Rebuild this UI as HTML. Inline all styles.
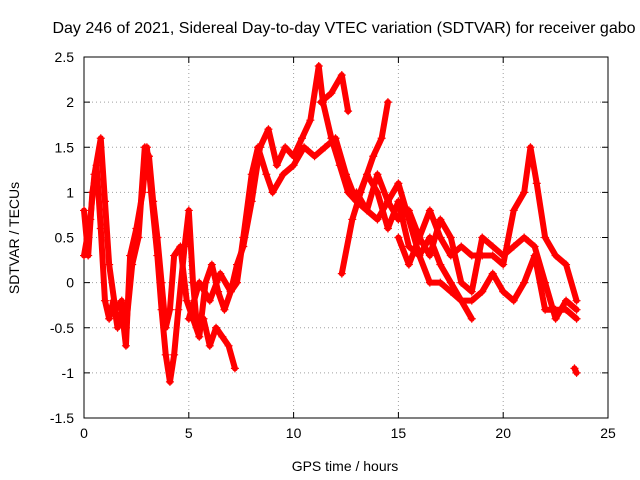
<!DOCTYPE html>
<html><head><meta charset="utf-8"><style>
body{margin:0;background:#fff;}
svg{display:block;font-family:"Liberation Sans",sans-serif;}
</style></head><body>
<svg id="chart" width="640" height="480">
<text x="344" y="33" font-size="16" text-anchor="middle">Day 246 of 2021, Sidereal Day-to-day VTEC variation (SDTVAR) for receiver gabo</text>
<g id="grid"></g>
<rect x="84" y="57" width="524" height="361" fill="none" stroke="#000"/>
<g id="ticks"></g>
<g id="series"></g>
<text x="345" y="471" font-size="14" text-anchor="middle">GPS time / hours</text>
<text x="19" y="238" font-size="14" text-anchor="middle" transform="rotate(-90 19 238)">SDTVAR / TECUs</text>
</svg>
<script>
const xTicks=[0,5,10,15,20,25];
const yTicks=[-1.5,-1,-0.5,0,0.5,1,1.5,2,2.5];
const tracks=[
[[0,0.8],[0.2,0.3],[0.4,1.0],[0.6,1.3],[0.8,0.6],[1.0,-0.2],[1.2,-0.4],[1.4,-0.2],[1.6,-0.5],[1.8,-0.3],[2.0,-0.7],[2.2,0.3],[2.5,0.6],[2.8,1.0],[3.0,1.5],[3.2,1.0],[3.5,0.3],[3.7,-0.3],[3.9,-0.8],[4.1,-1.1],[4.3,-0.8],[4.5,-0.3],[4.8,0.4],[5.0,0.8],[5.2,0.0],[5.4,-0.5],[5.7,-0.4],[6.0,-0.7],[6.3,-0.5],[6.6,-0.6],[6.9,-0.7],[7.2,-0.95]],
[[0,0.3],[0.3,0.7],[0.5,1.2],[0.8,1.6],[1.0,0.9],[1.2,0.2],[1.5,-0.3],[1.8,-0.2],[2.0,-0.5],[2.3,0.2],[2.6,0.5],[2.9,1.5],[3.1,1.4],[3.3,0.9],[3.5,0.5],[3.7,0.0],[3.9,-0.5],[4.1,-0.3],[4.3,0.3],[4.6,0.4],[4.9,-0.2],[5.2,-0.4],[5.5,-0.6],[5.8,0.0],[6.1,0.2],[6.4,-0.1],[6.7,-0.3],[7.0,-0.1],[7.3,0.2],[7.6,0.4],[8.0,0.9],[8.4,1.5],[8.8,1.7],[9.2,1.3],[9.6,1.5],[10.0,1.4],[10.4,1.6],[10.8,1.8],[11.2,2.4],[11.4,2.0],[11.8,1.6],[12.2,1.3],[12.6,1.0],[13.0,0.9],[13.5,1.2],[14.0,1.0],[14.5,0.6],[15.0,0.9],[15.5,0.4],[16.0,0.3],[16.5,0.5],[17.0,0.2],[17.5,0.0],[18.0,-0.2],[18.5,-0.4]],
[[5.0,-0.4],[5.5,0.0],[6.0,-0.2],[6.5,0.1],[7.0,-0.1],[7.3,0.0],[7.6,0.5],[8.0,1.2],[8.3,1.5],[8.7,1.2],[9.0,1.0],[9.5,1.2],[10.0,1.3],[10.5,1.5],[11.0,1.4],[11.5,1.5],[12.0,1.6],[12.5,1.2],[13.0,0.9],[13.5,0.8],[14.0,0.7],[14.5,0.9],[15.0,1.1],[15.5,0.7],[16.0,0.3],[16.5,0.0],[17.0,0.0],[17.5,-0.1],[18.0,-0.2],[18.5,-0.2],[19.0,-0.1],[19.5,0.1],[20.0,-0.1],[20.5,-0.2],[21.0,0.0],[21.5,0.3],[22.0,-0.3],[22.5,-0.3],[23.0,-0.3],[23.5,-0.4]],
[[12.3,0.1],[12.8,0.7],[13.2,1.0],[13.8,1.4],[14.2,1.6],[14.5,2.0]],
[[11.3,2.0],[11.8,2.1],[12.3,2.3],[12.6,1.9]],
[[13.0,1.0],[13.5,0.8],[14.0,1.2],[14.5,0.9],[15.0,0.7],[15.5,0.8],[16.0,0.5],[16.5,0.8],[17.0,0.5],[17.5,0.3],[18.0,0.4],[18.5,0.3],[19.0,0.3],[19.5,0.3],[20.0,0.2],[20.5,0.8],[21.0,1.0],[21.3,1.5],[21.6,1.1],[22.0,0.5],[22.5,0.3],[23.0,0.2],[23.5,-0.2]],
[[15.0,0.5],[15.5,0.2],[16.0,0.5],[16.5,0.3],[17.0,0.7],[17.5,0.5],[18.0,0.0],[18.5,-0.1],[19.0,0.5],[19.5,0.4],[20.0,0.3],[20.5,0.4],[21.0,0.5],[21.5,0.4],[22.0,0.0],[22.5,-0.4],[23.0,-0.2],[23.5,-0.3]],
[[23.4,-0.95],[23.5,-1.0]]
];
const NS="http://www.w3.org/2000/svg";
const X0=84,X1=608,Y0=418,Y1=57;
const xs=v=>X0+(v-0)/25*(X1-X0);
const ys=v=>Y0-(v+1.5)/4*(Y0-Y1);
function mk(t,a,p){const e=document.createElementNS(NS,t);for(const k in a)e.setAttribute(k,a[k]);p.appendChild(e);return e;}
const grid=document.getElementById('grid'),ticks=document.getElementById('ticks'),ser=document.getElementById('series');
xTicks.forEach(v=>{const x=xs(v);
 if(v>0&&v<25){const g=mk('line',{x1:x,x2:x,y1:Y0,y2:Y1,stroke:'#a0a0a0','stroke-dasharray':'1,3'},grid);}
 mk('line',{x1:x,x2:x,y1:Y0,y2:Y0-6,stroke:'#000'},ticks);mk('line',{x1:x,x2:x,y1:Y1,y2:Y1+6,stroke:'#000'},ticks);
 const t=mk('text',{x:x,y:Y0+20,'font-size':14,'text-anchor':'middle'},ticks);t.textContent=v;
 
 });
yTicks.forEach(v=>{const y=ys(v);
 if(v>-1.5&&v<2.5){const g=mk('line',{x1:X0,x2:X1,y1:y,y2:y,stroke:'#a0a0a0','stroke-dasharray':'1,3'},grid);}
 mk('line',{x1:X0,x2:X0+6,y1:y,y2:y,stroke:'#000'},ticks);mk('line',{x1:X1,x2:X1-6,y1:y,y2:y,stroke:'#000'},ticks);
 const t=mk('text',{x:X0-10,y:y+5,'font-size':14,'text-anchor':'end'},ticks);t.textContent=v;
 
 });
tracks.forEach((tr,i)=>{
 const pl=mk('polyline',{points:tr.map(p=>xs(p[0])+','+ys(p[1])).join(' '),fill:'none',stroke:'#ff0000','stroke-width':6,'stroke-linejoin':'round','stroke-linecap':'round'},ser);
 
 
 tr.forEach(p=>{const x=xs(p[0]),y=ys(p[1]);
  const m=mk('path',{d:`M${x-4},${y}h8M${x},${y-4}v8`,stroke:'#ff0000','stroke-width':1.2},ser);
  
  });
});
</script>
</body></html>
